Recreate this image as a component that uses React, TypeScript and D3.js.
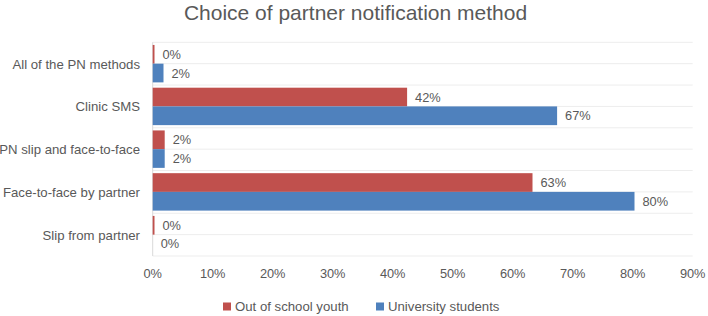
import React from "react";
import * as d3 from "d3";

const categories = [
  "All of the PN methods",
  "Clinic SMS",
  "PN slip and face-to-face",
  "Face-to-face by partner",
  "Slip from partner",
];
const outOfSchoolYouth = [0.3, 42.4, 2.0, 63.3, 0.3];
const universityStudents = [1.8, 67.4, 2.0, 80.3, 0.0];
const seriesNames = ["Out of school youth", "University students"];
const seriesColors = ["#C0504D", "#4F81BD"];
const xTicks = [0, 10, 20, 30, 40, 50, 60, 70, 80, 90];
const title = "Choice of partner notification method";

const W = 708;
const H = 316;
const FONT = "'Liberation Sans', Arial, sans-serif";
const TEXT = "#595959";

export default function App() {
  const left = 152.7;
  const right = 692.7;
  const top = 42.3;
  const bottom = 256;

  const x = d3.scaleLinear().domain([0, 90]).range([left, right]);
  const y = d3.scaleBand<string>().domain(categories).range([top, bottom]).paddingInner(0).paddingOuter(0);
  const sub = d3
    .scaleBand<number>()
    .domain([0, 1])
    .range([0, y.bandwidth()])
    .paddingInner(0)
    .paddingOuter(0.1418);

  const series = [outOfSchoolYouth, universityStudents];

  const gridYs: number[] = [];
  categories.forEach((c) => {
    const y0 = y(c)!;
    gridYs.push(y0, y0 + y.bandwidth() / 2);
  });
  gridYs.push(bottom);

  return (
    <svg width={W} height={H} style={{ position: "absolute", left: 0, top: 0, background: "#fff" }}>
      <rect x={0} y={0} width={W} height={H} fill="#fff" />
      <text x={355.5} y={19.5} textAnchor="middle" fontFamily={FONT} fontSize={21} fill={TEXT}>
        {title}
      </text>

      {gridYs.map((gy, i) => (
        <line key={i} x1={left} x2={right} y1={gy} y2={gy} stroke="#EDEDED" strokeWidth={1} />
      ))}
      <line x1={left} x2={left} y1={top} y2={bottom} stroke="#D9D9D9" strokeWidth={1} />

      {categories.map((c, ci) => (
        <g key={c}>
          <text
            x={140}
            y={y(c)! + y.bandwidth() / 2 + 0.5}
            textAnchor="end"
            dominantBaseline="central"
            fontFamily={FONT}
            fontSize={13.2}
            fill={TEXT}
          >
            {c}
          </text>
          {series.map((vals, si) => {
            const by = y(c)! + sub(si)!;
            const bh = sub.bandwidth();
            const v = vals[ci];
            return (
              <g key={si}>
                <rect x={x(0)} y={by} width={x(v) - x(0)} height={bh} fill={seriesColors[si]} />
                <text
                  x={x(v) + 8}
                  y={by + bh / 2}
                  dominantBaseline="central"
                  fontFamily={FONT}
                  fontSize={12.8}
                  fill={TEXT}
                >
                  {`${Math.round(v)}%`}
                </text>
              </g>
            );
          })}
        </g>
      ))}

      {xTicks.map((t) => (
        <text
          key={t}
          x={x(t)}
          y={273}
          textAnchor="middle"
          dominantBaseline="central"
          fontFamily={FONT}
          fontSize={12.8}
          fill={TEXT}
        >
          {`${t}%`}
        </text>
      ))}

      {seriesNames.map((n, i) => {
        const lx = [223, 376][i];
        return (
          <g key={n}>
            <rect x={lx} y={302.5} width={8} height={8} fill={seriesColors[i]} />
            <text x={lx + 12} y={306.5} dominantBaseline="central" fontFamily={FONT} fontSize={13.2} fill={TEXT}>
              {n}
            </text>
          </g>
        );
      })}
    </svg>
  );
}
